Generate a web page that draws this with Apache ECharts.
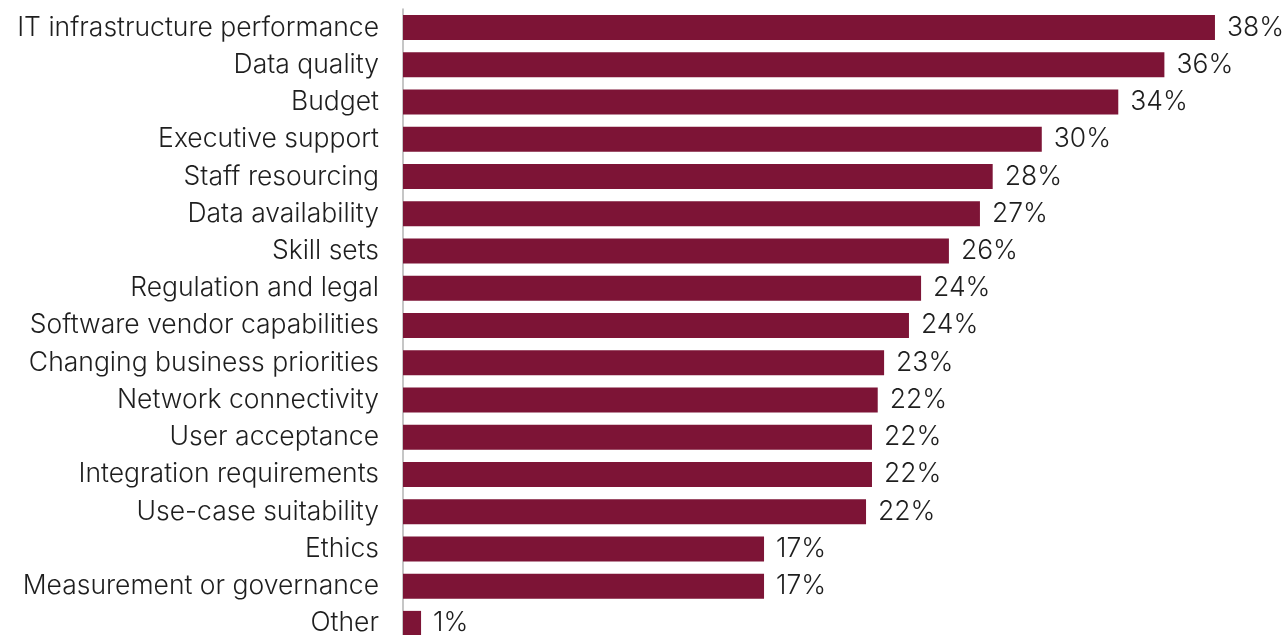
<!DOCTYPE html>
<html>
<head>
<meta charset="utf-8">
<script src="https://cdn.jsdelivr.net/npm/echarts@6/dist/echarts.min.js"></script>
<style>
html,body{margin:0;padding:0;background:#fff;overflow:hidden;}
#c{width:1285px;height:642px;}
</style>
</head>
<body>
<div id="c"></div>
<script>
const categories = [
  "IT infrastructure performance",
  "Data quality",
  "Budget",
  "Executive support",
  "Staff resourcing",
  "Data availability",
  "Skill sets",
  "Regulation and legal",
  "Software vendor capabilities",
  "Changing business priorities",
  "Network connectivity",
  "User acceptance",
  "Integration requirements",
  "Use-case suitability",
  "Ethics",
  "Measurement or governance",
  "Other"
];
const values = [38.21, 35.83, 33.66, 30.06, 27.75, 27.15, 25.69, 24.38, 23.81, 22.64, 22.34, 22.07, 22.07, 21.79, 16.99, 16.99, 0.85];

const chart = echarts.init(document.getElementById('c'), null, {renderer: 'canvas'});
const FONT = 'Inter';
chart.setOption({
  animation: false,
  grid: {left: 403, top: 9, right: 32, bottom: 0, containLabel: false},
  xAxis: {
    type: 'value', min: 0, max: 40,
    show: false
  },
  yAxis: {
    type: 'category',
    data: categories,
    inverse: true,
    axisLine: {show: true, lineStyle: {color: '#b3b3b3', width: 1.5}},
    axisTick: {show: false},
    axisLabel: {
      margin: 24,
      fontFamily: FONT, fontWeight: 300, fontSize: 26.5, color: '#1e1e1e'
    }
  },
  series: [{
    type: 'bar',
    data: values,
    barWidth: 25,
    itemStyle: {color: '#7d1436'},
    label: {
      show: true, position: 'right', distance: 12,
      fontFamily: FONT, fontWeight: 300, fontSize: 26.5, color: '#1e1e1e',
      formatter: p => Math.round(p.value) + '%'
    }
  }]
});
</script>
</body>
</html>
